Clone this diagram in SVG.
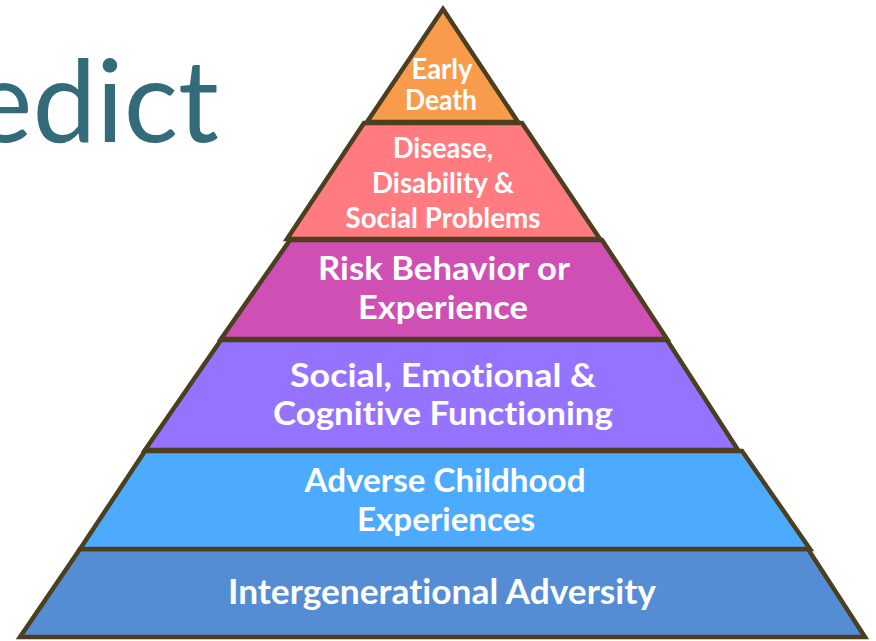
<svg xmlns="http://www.w3.org/2000/svg" width="876" height="641" viewBox="0 0 876 641">
  <style>
    .layer { stroke: #4b3f20; stroke-width: 4.5; stroke-linejoin: miter; }
    .lbl { font-family: Lato, "Open Sans", sans-serif; font-weight: bold; fill: #ffffff; text-anchor: middle; font-variant-ligatures: none; }
    .title { font-family: Lato, "Open Sans", sans-serif; fill: #336b7a; font-size: 114px; text-anchor: end; }
  </style>
  <rect width="876" height="641" fill="#ffffff"/>
  <text class="title" x="219" y="142">edict</text>
  <g id="connectors"></g>
  <g id="layer6">
    <polygon class="layer" fill="#548dd4" points="80,549 808,549 865,637 20,637"/>
    <text class="lbl" x="442" y="604" font-size="34" textLength="428" lengthAdjust="spacingAndGlyphs">Intergenerational Adversity</text>
  </g>
  <g id="layer5">
    <polygon class="layer" fill="#4dabff" points="145,451 742,451 810,549 80,549"/>
    <text class="lbl" x="445" y="492" font-size="33" textLength="281" lengthAdjust="spacingAndGlyphs">Adverse Childhood</text>
    <text class="lbl" x="446" y="531" font-size="33" textLength="178" lengthAdjust="spacingAndGlyphs">Experiences</text>
  </g>
  <g id="layer4">
    <polygon class="layer" fill="#9673ff" points="221,340 667,340 738,450 145,450"/>
    <text class="lbl" x="443" y="387" font-size="33" textLength="306" lengthAdjust="spacingAndGlyphs">Social, Emotional &amp;</text>
    <text class="lbl" x="443" y="425" font-size="33" textLength="340" lengthAdjust="spacingAndGlyphs">Cognitive Functioning</text>
  </g>
  <g id="layer3">
    <polygon class="layer" fill="#d04fb5" points="290,240 602,240 667,339 221,339"/>
    <text class="lbl" x="444" y="280" font-size="33" textLength="252" lengthAdjust="spacingAndGlyphs">Risk Behavior or</text>
    <text class="lbl" x="443" y="319" font-size="33" textLength="170" lengthAdjust="spacingAndGlyphs">Experience</text>
  </g>
  <g id="layer2">
    <polygon class="layer" fill="#ff7b80" points="364,123 522,123 600,239 287,239"/>
    <text class="lbl" x="443" y="158" font-size="29" textLength="100" lengthAdjust="spacingAndGlyphs">Disease,</text>
    <text class="lbl" x="443" y="193" font-size="29" textLength="142" lengthAdjust="spacingAndGlyphs">Disability &amp;</text>
    <text class="lbl" x="443" y="228" font-size="29" textLength="195" lengthAdjust="spacingAndGlyphs">Social Problems</text>
  </g>
  <g id="layer1">
    <polygon class="layer" fill="#f89c4b" points="443,9 518,122 367,122"/>
    <text class="lbl" x="442" y="79" font-size="28" textLength="61" lengthAdjust="spacingAndGlyphs">Early</text>
    <text class="lbl" x="441" y="110" font-size="28" textLength="72" lengthAdjust="spacingAndGlyphs">Death</text>
  </g>
</svg>
